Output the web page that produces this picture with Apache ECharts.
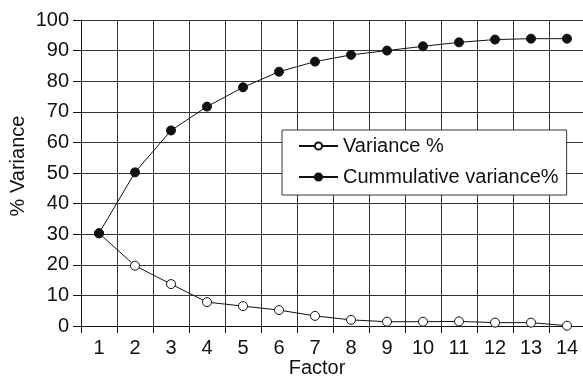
<!DOCTYPE html>
<html>
<head>
<meta charset="utf-8">
<script src="https://cdn.jsdelivr.net/npm/echarts@6/dist/echarts.min.js"></script>
<style>
    html, body { margin: 0; padding: 0; background: #fff; }
    #chart { width: 583px; height: 377px; }
</style>
</head>
<body>
<div id="chart"></div>
<script>
const factors = ['1', '2', '3', '4', '5', '6', '7', '8', '9', '10', '11', '12', '13', '14']
const variance = [30.3, 19.7, 13.7, 7.8, 6.5, 5.2, 3.3, 2.0, 1.4, 1.4, 1.5, 1.1, 1.1, 0.1]
const cumulative = [30.3, 50.2, 63.9, 71.7, 78.0, 83.1, 86.4, 88.6, 90.0, 91.4, 92.7, 93.6, 93.9, 93.9]

const font = 'Liberation Sans, Arial, sans-serif'
const ink = '#111'
const gridColor = '#333'

const chart = echarts.init(document.getElementById('chart'))

chart.setOption({
    animation: false,
    backgroundColor: '#fff',
    textStyle: { fontFamily: font },
    grid: {
        left: 81,
        right: -2,
        top: 20,
        bottom: 51,
        outerBoundsMode: 'none',
    },
    legend: {
        orient: 'vertical',
        left: 282,
        top: 130,
        backgroundColor: '#fff',
        borderColor: gridColor,
        borderWidth: 1,
        borderRadius: 0,
        padding: [5, 8, 7, 16],
        itemWidth: 39,
        itemHeight: 9,
        itemGap: 9,
        textStyle: { fontSize: 20, color: ink, lineHeight: 22, fontFamily: font },
        data: ['Variance %', 'Cummulative variance%'],
    },
    xAxis: {
        type: 'category',
        data: factors,
        boundaryGap: true,
        name: 'Factor',
        nameLocation: 'middle',
        nameGap: 32,
        nameMoveOverlap: false,
        nameTextStyle: { fontSize: 20, color: ink, padding: [0, 32, 0, 0] },
        axisLine: { lineStyle: { color: ink, width: 1 } },
        axisTick: { show: true, length: 7, interval: 0, lineStyle: { color: ink } },
        axisLabel: { fontSize: 20, color: ink, margin: 12, interval: 0 },
        splitLine: { show: true, interval: 0, lineStyle: { color: gridColor, width: 1 } },
    },
    yAxis: {
        type: 'value',
        min: 0,
        max: 100,
        interval: 10,
        name: '% Variance',
        nameLocation: 'middle',
        nameGap: 53,
        nameMoveOverlap: false,
        nameTextStyle: { fontSize: 20, color: ink, padding: [0, 0, 0, 14] },
        axisLine: { show: true, lineStyle: { color: ink, width: 1 } },
        axisTick: { show: true, length: 8, lineStyle: { color: ink } },
        axisLabel: { fontSize: 20, color: ink, margin: 12 },
        splitLine: { show: true, lineStyle: { color: gridColor, width: 1 } },
    },
    series: [
        {
            name: 'Variance %',
            type: 'line',
            data: variance,
            symbol: 'circle',
            symbolSize: 9,
            lineStyle: { color: ink, width: 1 },
            itemStyle: { color: '#fff', borderColor: ink, borderWidth: 1 },
            z: 3,
        },
        {
            name: 'Cummulative variance%',
            type: 'line',
            data: cumulative,
            symbol: 'circle',
            symbolSize: 9,
            lineStyle: { color: ink, width: 1 },
            itemStyle: { color: ink, borderColor: ink, borderWidth: 1 },
            z: 4,
        },
    ],
})
</script>
</body>
</html>
